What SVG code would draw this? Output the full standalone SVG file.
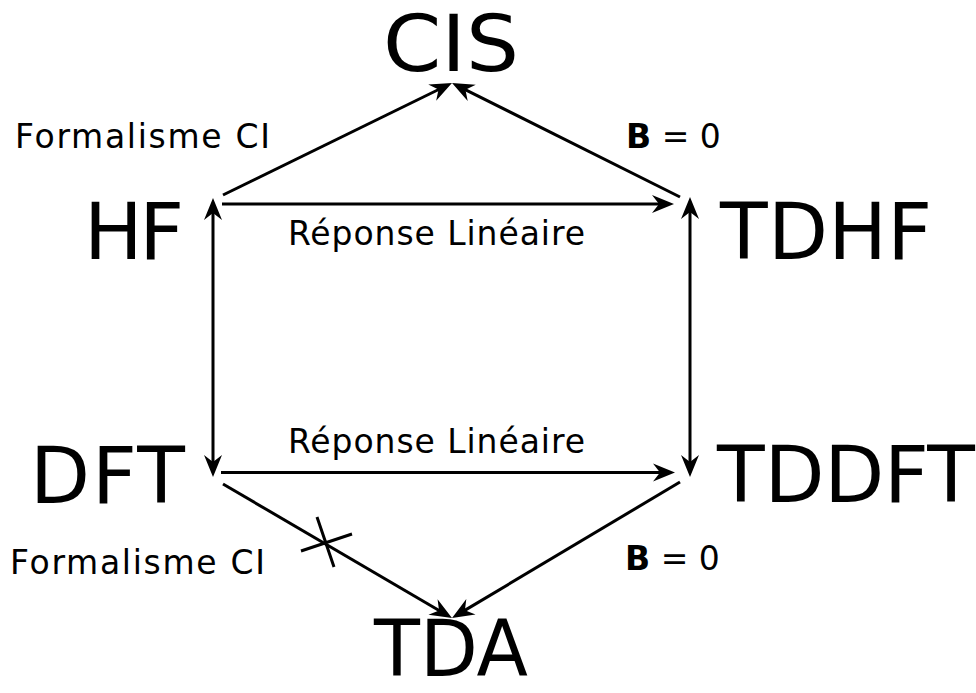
<svg xmlns="http://www.w3.org/2000/svg" width="976" height="693" viewBox="0 0 976 693">
<style>
  .big { font-family: "DejaVu Sans", sans-serif; font-size: 78px; fill: #000; }
  .lbl { font-family: "DejaVu Sans", sans-serif; font-size: 33px; fill: #000; }
  .edge { stroke: #000; stroke-width: 3; fill: none; }
</style>
<defs>
  <marker id="ah" viewBox="-23 -10 24 20" markerWidth="24" markerHeight="20" refX="-8" refY="0" orient="auto-start-reverse" markerUnits="userSpaceOnUse">
    <path d="M0,0 L-22,-9 L-15,0 L-22,9 Z" fill="#000"/>
  </marker>
</defs>
<rect width="976" height="693" fill="#fff"/>
<g id="connectors">
  <path class="edge" d="M223,195 L444.8,86.5" marker-end="url(#ah)"/>
  <path class="edge" d="M680,197 L459.2,86.6" marker-end="url(#ah)"/>
  <path class="edge" d="M222,204 L666,204" marker-end="url(#ah)"/>
  <path class="edge" d="M221,472.5 L667,472.5" marker-end="url(#ah)"/>
  <path class="edge" d="M213,206 L213,469" marker-start="url(#ah)" marker-end="url(#ah)"/>
  <path class="edge" d="M690,205 L690,469" marker-start="url(#ah)" marker-end="url(#ah)"/>
  <path class="edge" d="M223,484 L445.1,614" marker-end="url(#ah)"/>
  <path class="edge" d="M680,482 L458.9,613.9" marker-end="url(#ah)"/>
  <path class="edge" d="M301,551 L352,534 M317,517 L334,567"/>
</g>
<g id="labels">
  <text class="lbl" x="15" y="148" textLength="255">Formalisme CI</text>
  <text class="lbl" x="626" y="148" font-size="31"><tspan font-weight="bold">B</tspan> = 0</text>
  <text class="lbl" x="288" y="245" textLength="297">Réponse Linéaire</text>
  <text class="lbl" x="288" y="453" textLength="297">Réponse Linéaire</text>
  <text class="lbl" x="10" y="574" textLength="255">Formalisme CI</text>
  <text class="lbl" x="625" y="570" font-size="31"><tspan font-weight="bold">B</tspan> = 0</text>
</g>
<g id="node-CIS"><text class="big" x="451" y="71" text-anchor="middle" font-size="72" textLength="136" lengthAdjust="spacingAndGlyphs">CIS</text></g>
<g id="node-HF"><text class="big" x="84" y="259" textLength="100">HF</text></g>
<g id="node-TDHF"><text class="big" x="720" y="259" textLength="212">TDHF</text></g>
<g id="node-DFT"><text class="big" x="30" y="503" textLength="155">DFT</text></g>
<g id="node-TDDFT"><text class="big" x="717" y="502" textLength="258">TDDFT</text></g>
<g id="node-TDA"><text class="big" x="451" y="676" text-anchor="middle" font-size="70" textLength="154" lengthAdjust="spacingAndGlyphs">TDA</text></g>
</svg>
